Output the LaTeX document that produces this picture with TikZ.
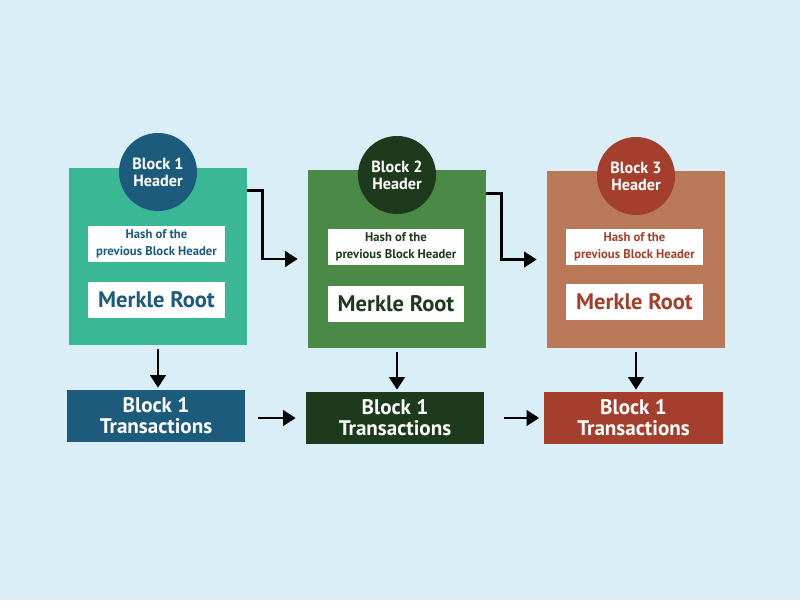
\documentclass[tikz,border=0pt]{standalone}
\usepackage{fontspec}
\setmainfont{PT Sans}
\usetikzlibrary{arrows.meta}

\definecolor{bgblue}{HTML}{D9EEF6}
\definecolor{tealbox}{HTML}{3AB795}
\definecolor{navy}{HTML}{1D5B7D}
\definecolor{greenbox}{HTML}{4A8A46}
\definecolor{darkgreen}{HTML}{1E3A1D}
\definecolor{brownbox}{HTML}{B97858}
\definecolor{rust}{HTML}{A43F2D}

\tikzset{
  blockbox/.style={minimum width=4.45cm, minimum height=4.425cm, inner sep=0pt},
  headcircle/.style={circle, minimum size=1.95cm, inner sep=0pt, text=white, align=center,
    font=\bfseries\fontsize{11.5}{12}\selectfont},
  hashbox/.style={fill=white, minimum width=3.42cm, minimum height=0.9cm, inner sep=0pt, align=center,
    font=\bfseries\fontsize{9}{11.8}\selectfont},
  merklebox/.style={fill=white, minimum width=3.42cm, minimum height=0.9cm, inner sep=0pt,
    font=\bfseries\fontsize{16}{17}\selectfont},
  txbox/.style={minimum width=4.45cm, minimum height=1.3cm, inner sep=0pt, text=white, align=center,
    font=\bfseries\fontsize{15}{15}\selectfont},
  arr/.style={line width=2pt, -{Triangle[length=9pt,width=11pt]}},
}

\begin{document}
\begin{tikzpicture}[x=0.025cm, y=-0.025cm]

\fill[bgblue] (0,0) rectangle (800,600) ;
\useasboundingbox (0,0) rectangle (800,600) ;

% block 1
\node[blockbox, fill=tealbox] (box1) at (158,256.5) {} ;
\node[headcircle, fill=navy] (head1) at (158,172) {Block 1\\Header} ;
\node[hashbox, text=navy] (hash1) at (156.5,244) {Hash of the\\previous Block Header} ;
\node[merklebox, text=navy] (merkle1) at (156.5,300) {Merkle Root} ;
\node[txbox, fill=navy] (tx1) at (156,416) {Block 1\\Transactions} ;

% block 2
\node[blockbox, fill=greenbox] (box2) at (397,259) {} ;
\node[headcircle, fill=darkgreen] (head2) at (397,175) {Block 2\\Header} ;
\node[hashbox, text=darkgreen] (hash2) at (396,246.5) {Hash of the\\previous Block Header} ;
\node[merklebox, text=darkgreen] (merkle2) at (396,303.5) {Merkle Root} ;
\node[txbox, fill=darkgreen] (tx2) at (395,418) {Block 1\\Transactions} ;

% block 3
\node[blockbox, fill=brownbox] (box3) at (636,259.5) {} ;
\node[headcircle, fill=rust] (head3) at (636,176) {Block 3\\Header} ;
\node[hashbox, text=rust] (hash3) at (634.5,247) {Hash of the\\previous Block Header} ;
\node[merklebox, text=rust] (merkle3) at (634.5,302) {Merkle Root} ;
\node[txbox, fill=rust] (tx3) at (633.5,418) {Block 1\\Transactions} ;

% links
\draw[arr] ([yshift=-0.575cm]box1.north east) -- ++(15,0) |- ([xshift=-0.25cm]box2.west) ;
\draw[arr] ([yshift=-0.575cm]box2.north east) -- ++(15,0) |- ([xshift=-0.25cm]box3.west) ;
\draw[arr, shorten <=0.1cm, shorten >=0.05cm] (box1.south) -- (box1.south |- tx1.north) ;
\draw[arr, shorten <=0.1cm, shorten >=0.05cm] (box2.south) -- (box2.south |- tx2.north) ;
\draw[arr, shorten <=0.1cm, shorten >=0.05cm] (box3.south) -- (box3.south |- tx3.north) ;
\draw[arr, shorten <=0.325cm, shorten >=0.25cm] (tx1.east |- tx2.west) -- (tx2.west) ;
\draw[arr, shorten <=0.5cm, shorten >=0.125cm] (tx2.east) -- (tx3.west) ;

\end{tikzpicture}
\end{document}
